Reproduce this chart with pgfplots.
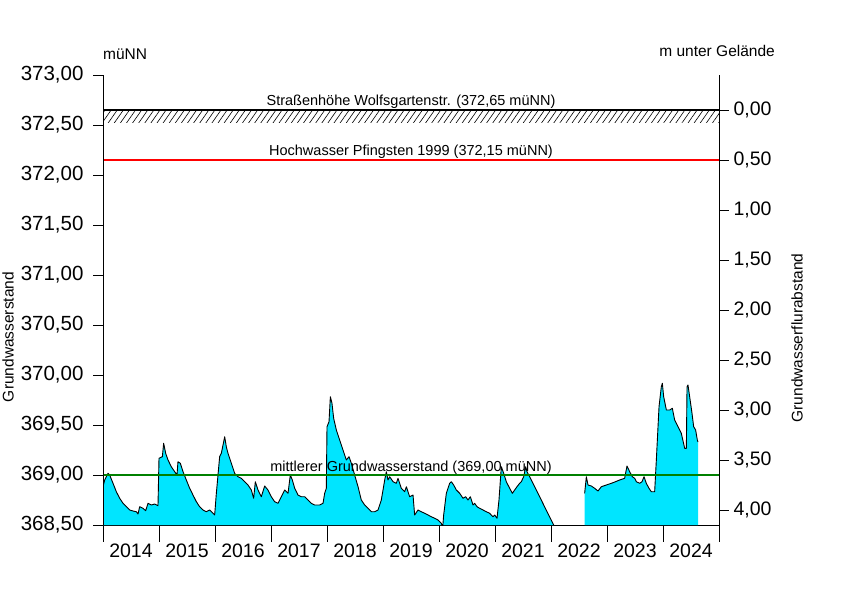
\documentclass[border=0pt]{standalone}
\usepackage{fontspec}
\setmainfont{Liberation Sans}
\usepackage{pgfplots}
\pgfplotsset{compat=1.18}
\usepackage{pgfplotstable}
\usetikzlibrary{patterns.meta}
\definecolor{aqua}{RGB}{0,229,255}
\definecolor{dgreen}{RGB}{0,128,0}

\pgfplotstableread{
x y
2014.000 368.883
2014.030 368.950
2014.089 369.017
2014.119 369.000
2014.179 368.917
2014.238 368.833
2014.298 368.767
2014.357 368.717
2014.417 368.683
2014.476 368.650
2014.536 368.640
2014.595 368.633
2014.625 368.610
2014.655 368.683
2014.714 368.667
2014.762 368.643
2014.804 368.717
2014.863 368.700
2014.923 368.710
2014.982 368.693
2015.000 369.167
2015.060 369.183
2015.083 369.317
2015.119 369.217
2015.161 369.150
2015.220 369.083
2015.280 369.033
2015.321 369.000
2015.339 369.133
2015.381 369.117
2015.429 369.033
2015.488 368.950
2015.548 368.867
2015.607 368.800
2015.667 368.733
2015.726 368.683
2015.786 368.650
2015.845 368.633
2015.905 368.650
2015.964 368.617
2015.994 368.600
2016.024 368.817
2016.083 369.183
2016.113 369.217
2016.173 369.383
2016.202 369.283
2016.232 369.217
2016.292 369.117
2016.351 369.017
2016.411 368.983
2016.470 368.967
2016.530 368.933
2016.589 368.900
2016.649 368.850
2016.690 368.767
2016.720 368.933
2016.768 368.850
2016.827 368.783
2016.887 368.890
2016.946 368.850
2017.006 368.783
2017.065 368.733
2017.125 368.717
2017.185 368.783
2017.244 368.850
2017.304 368.817
2017.345 369.000
2017.381 368.950
2017.423 368.867
2017.482 368.800
2017.542 368.783
2017.601 368.783
2017.661 368.750
2017.720 368.717
2017.780 368.700
2017.869 368.700
2017.929 368.717
2017.958 368.817
2017.988 368.867
2018.000 369.483
2018.036 369.533
2018.060 369.783
2018.089 369.717
2018.119 369.567
2018.167 369.450
2018.226 369.350
2018.286 369.250
2018.345 369.150
2018.393 369.183
2018.435 369.117
2018.494 369.000
2018.554 368.883
2018.613 368.750
2018.673 368.700
2018.732 368.667
2018.792 368.633
2018.851 368.633
2018.911 368.650
2018.970 368.750
2019.000 368.850
2019.030 368.950
2019.060 369.033
2019.089 368.950
2019.119 368.983
2019.179 368.933
2019.238 368.917
2019.268 368.967
2019.327 368.867
2019.387 368.833
2019.417 368.883
2019.476 368.783
2019.536 368.800
2019.565 368.600
2019.625 368.650
2019.685 368.633
2019.744 368.617
2019.804 368.600
2019.863 368.583
2019.923 368.567
2019.982 368.550
2020.042 368.517
2020.065 368.470
2020.083 368.600
2020.131 368.817
2020.190 368.917
2020.220 368.933
2020.262 368.900
2020.310 368.850
2020.369 368.817
2020.429 368.767
2020.476 368.783
2020.518 368.750
2020.560 368.783
2020.607 368.700
2020.637 368.717
2020.679 368.683
2020.726 368.667
2020.786 368.650
2020.845 368.633
2020.905 368.617
2020.964 368.583
2020.994 368.600
2021.036 368.567
2021.071 368.750
2021.113 369.083
2021.155 369.017
2021.202 368.933
2021.262 368.867
2021.310 368.817
2021.351 368.850
2021.393 368.883
2021.440 368.917
2021.470 368.933
2021.512 368.983
2021.548 369.083
2021.571 369.033
2021.619 368.983
2022.048 368.500
}\segA

\pgfplotstableread{
x y
2022.601 368.817
2022.631 368.983
2022.661 368.900
2022.720 368.890
2022.780 368.867
2022.839 368.840
2022.899 368.883
2022.988 368.900
2023.107 368.923
2023.226 368.950
2023.315 368.967
2023.357 369.090
2023.405 369.033
2023.452 368.983
2023.494 368.967
2023.524 368.933
2023.583 368.917
2023.625 368.933
2023.661 368.983
2023.702 368.917
2023.750 368.867
2023.792 368.833
2023.851 368.833
2023.881 369.150
2023.929 369.683
2023.970 369.883
2023.988 369.917
2024.012 369.783
2024.060 369.650
2024.119 369.650
2024.167 369.667
2024.208 369.550
2024.268 369.483
2024.327 369.417
2024.387 369.267
2024.417 369.267
2024.429 369.883
2024.446 369.900
2024.476 369.783
2024.518 369.617
2024.548 369.483
2024.583 369.450
2024.613 369.350
2024.625 369.330
}\segB

\begin{document}
\begin{tikzpicture}[x=1pt,y=1pt]
\path[use as bounding box] (0,0) rectangle (854,600);

% main axis: data + x axis
\begin{axis}[
  at={(103pt,75pt)}, anchor=south west,
  width=616pt, height=450pt, scale only axis,
  xmin=2014, xmax=2025, ymin=368.5, ymax=373,
  axis x line*=bottom, axis y line=none,
  axis line style={line width=0.8pt,-},
  tick align=outside,
  major tick length=17pt,
  xtick={2014,2015,2016,2017,2018,2019,2020,2021,2022,2023,2024,2025},
  xticklabels={2014,2015,2016,2017,2018,2019,2020,2021,2022,2023,2024,{}},
  xtick style={line width=0.8pt,black},
  xticklabel style={font=\fontsize{19.5}{22}\selectfont, xshift=28pt, yshift=2pt},
  ytick=\empty,
  clip=true,
]
\addplot[fill=aqua, draw=none] table {\segA} |- (axis cs:2014,368.5) -- cycle;
\addplot[fill=aqua, draw=none] table {\segB} |- (axis cs:2022.601,368.5) -- cycle;
\fill[pattern={Lines[angle=55,distance=5pt,line width=0.6pt]}] (axis cs:2014,372.52) rectangle (axis cs:2025,372.65);
\addplot[black, line width=0.9pt, line join=round] table {\segA};
\addplot[black, line width=0.9pt, line join=round] table {\segB};
\addplot[black, line width=2pt] coordinates {(2014,372.65) (2025,372.65)};
\addplot[red, line width=2pt] coordinates {(2014,372.15) (2025,372.15)};
\addplot[dgreen, line width=2.4pt] coordinates {(2014,369.0) (2025,369.0)};
\node[anchor=base, font=\fontsize{14.5}{16}\selectfont, inner sep=0pt] at (axis cs:2019.5,372.65) [yshift=4pt] {Straßenhöhe Wolfsgartenstr. (372,65 müNN)};
\node[anchor=base, font=\fontsize{14.5}{16}\selectfont, inner sep=0pt] at (axis cs:2019.5,372.15) [yshift=4pt] {Hochwasser Pfingsten 1999 (372,15 müNN)};
\node[anchor=base, font=\fontsize{14.5}{16}\selectfont, inner sep=0pt] at (axis cs:2019.5,369.0) [yshift=4pt] {mittlerer Grundwasserstand (369,00 müNN)};
\end{axis}

% left y axis
\begin{axis}[
  at={(103pt,75pt)}, anchor=south west,
  width=616pt, height=450pt, scale only axis,
  xmin=2014, xmax=2025, ymin=368.5, ymax=373,
  axis x line=none, axis y line*=left,
  axis line style={line width=0.8pt,-},
  tick align=outside, major tick length=10pt,
  ytick={368.5,369,369.5,370,370.5,371,371.5,372,372.5,373},
  ytick style={line width=0.8pt,black},
  yticklabel style={font=\fontsize{20.5}{23}\selectfont, xshift=-6pt,
    /pgf/number format/.cd, fixed, fixed zerofill, precision=2, use comma, 1000 sep={}, assume math mode=true},
]
\end{axis}

% right y axis
\begin{axis}[
  at={(103pt,75pt)}, anchor=south west,
  width=616pt, height=450pt, scale only axis,
  xmin=2014, xmax=2025, ymin=-0.35, ymax=4.15, y dir=reverse,
  axis x line=none, axis y line*=right,
  axis line style={line width=0.8pt,-},
  tick align=outside, major tick length=10pt,
  ytick={0,0.5,1,1.5,2,2.5,3,3.5,4},
  ytick style={line width=0.8pt,black},
  yticklabel style={font=\fontsize{19.5}{22}\selectfont, xshift=1pt,
    /pgf/number format/.cd, fixed, fixed zerofill, precision=2, use comma, assume math mode=true},
]
\end{axis}

\node[anchor=base west, font=\fontsize{15.5}{17}\selectfont, inner sep=0pt] at (103,540) {müNN};
\node[anchor=base east, font=\fontsize{15.5}{17}\selectfont, inner sep=0pt] at (775,543) {m unter Gelände};
\node[rotate=90, font=\fontsize{15.5}{17}\selectfont, inner sep=0pt] at (8,263) {Grundwasserstand};
\node[rotate=90, font=\fontsize{15.5}{17}\selectfont, inner sep=0pt] at (797,262) {Grundwasserflurabstand};
\end{tikzpicture}
\end{document}
